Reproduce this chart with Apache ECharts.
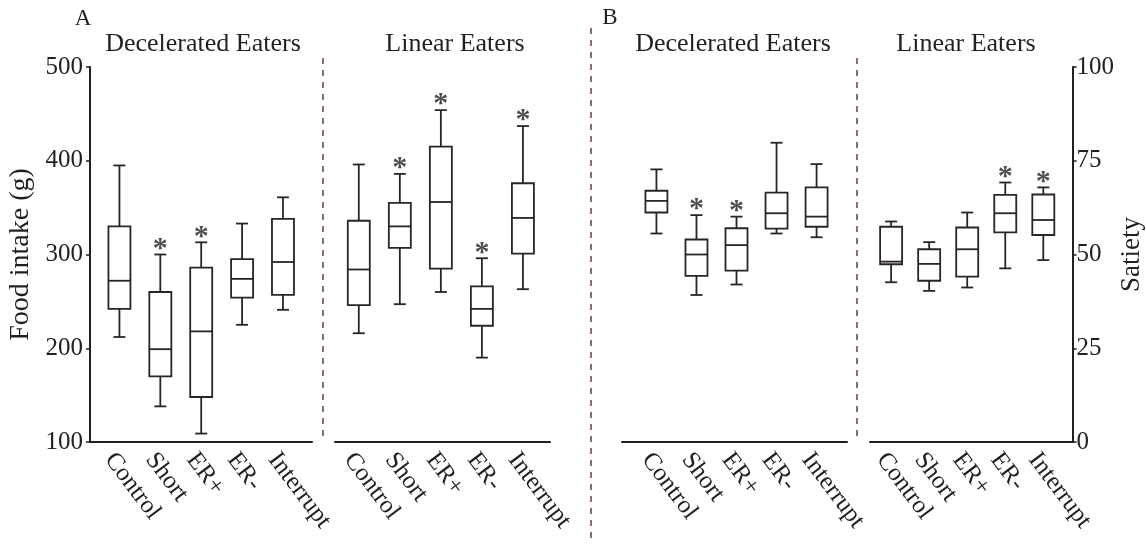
<!DOCTYPE html>
<html><head><meta charset="utf-8">
<script src="https://cdn.jsdelivr.net/npm/echarts@6/dist/echarts.min.js"></script>
<style>html,body{margin:0;padding:0;background:#fff}#c{width:1146px;height:545px}</style>
</head><body><div id="c"></div>
<script>
// ---- data ----
const categories = ['Control', 'Short', 'ER+', 'ER-', 'Interrupt'];
// [min, Q1, median, Q3, max]
const foodDecelerated = [[212, 242, 272, 330, 395], [138, 170, 199, 260, 300], [109, 148, 218, 286, 313], [225, 254, 274, 295, 333], [241, 257, 292, 338, 361]];
const foodLinear = [[216, 246, 284, 336, 396], [247, 307, 330, 355, 386], [260, 285, 356, 415, 454], [190, 224, 242, 266, 296], [263, 301, 339, 376, 437]];
const satietyDecelerated = [[55.6, 61.2, 64.3, 67.0, 72.7], [39.2, 44.3, 50.0, 54.0, 60.5], [42.0, 45.7, 52.5, 57.0, 60.1], [55.6, 56.9, 61.0, 66.5, 79.8], [54.6, 57.4, 60.1, 67.9, 74.1]];
const satietyLinear = [[42.6, 47.4, 48.1, 57.4, 58.8], [40.3, 43.0, 47.5, 51.4, 53.3], [41.2, 44.1, 51.4, 57.2, 61.2], [46.3, 55.9, 61.0, 65.9, 69.2], [48.5, 55.2, 59.2, 66.0, 67.9]];
const sigFoodDecelerated = [0, 1, 1, 0, 0];
const sigFoodLinear = [0, 1, 1, 1, 1];
const sigSatietyDecelerated = [0, 1, 1, 0, 0];
const sigSatietyLinear = [0, 0, 0, 1, 1];
const foodTicks = [100, 200, 300, 400, 500];
const satietyTicks = [0, 25, 50, 75, 100];

// ---- style ----
const FONT = 'Liberation Serif';
const INK = '#231f20';
const LINE = '#2a2422';
const DASH = '#8c6b6f';

const panels = [
  { vals: foodDecelerated, sig: sigFoodDecelerated, left: 90, width: 222, xmin: -0.72, xmax: 4.71 },
  { vals: foodLinear, sig: sigFoodLinear, left: 335, width: 215, xmin: -0.58, xmax: 4.66 },
  { vals: satietyDecelerated, sig: sigSatietyDecelerated, left: 622, width: 225, xmin: -0.86, xmax: 4.76 },
  { vals: satietyLinear, sig: sigSatietyLinear, left: 870, width: 213, xmin: -0.555, xmax: 4.77 }
];

function renderBox(params, api) {
  const x = api.value(0);
  const c = k => api.coord([x, api.value(k)]);
  const pMin = c(1), pQ1 = c(2), pMed = c(3), pQ3 = c(4), pMax = c(5);
  const cx = pMin[0], hw = 11, cw = 6;
  const st = { stroke: LINE, lineWidth: 1.8, fill: null };
  return { type: 'group', children: [
    { type: 'line', shape: { x1: cx, y1: pMax[1], x2: cx, y2: pQ3[1] }, style: st },
    { type: 'line', shape: { x1: cx, y1: pQ1[1], x2: cx, y2: pMin[1] }, style: st },
    { type: 'line', shape: { x1: cx - cw, y1: pMax[1], x2: cx + cw, y2: pMax[1] }, style: st },
    { type: 'line', shape: { x1: cx - cw, y1: pMin[1], x2: cx + cw, y2: pMin[1] }, style: st },
    { type: 'rect', shape: { x: cx - hw, y: pQ3[1], width: 2 * hw, height: pQ1[1] - pQ3[1] }, style: { stroke: LINE, lineWidth: 1.8, fill: 'rgba(0,0,0,0)' } },
    { type: 'line', shape: { x1: cx - hw, y1: pMed[1], x2: cx + hw, y2: pMed[1] }, style: st }
  ] };
}

const grid = panels.map(p => ({ left: p.left, width: p.width, top: 67, height: 375 }));
const xAxis = panels.map((p, gi) => ({
  type: 'value', gridIndex: gi, min: p.xmin, max: p.xmax,
  splitLine: { show: false },
  axisLine: { show: true, onZero: false, lineStyle: { color: INK, width: 2 } },
  axisTick: { show: false },
  axisLabel: {
    customValues: [0, 1, 2, 3, 4], rotate: -53, margin: 6, verticalAlign: 'top',
    formatter: v => categories[Math.round(v)],
    fontFamily: FONT, fontSize: 25, color: INK
  }
}));
const yAxis = [
  { type: 'value', gridIndex: 0, min: 100, max: 500, interval: 100, name: 'Food intake (g)',
    nameLocation: 'middle', nameRotate: 90, nameGap: 55,
    nameTextStyle: { fontFamily: FONT, fontSize: 28, color: INK },
    axisLine: { show: true, onZero: false, lineStyle: { color: INK, width: 2 } },
    axisTick: { show: true, length: 4, lineStyle: { color: INK, width: 1.5 } },
    splitLine: { show: false },
    axisLabel: { customValues: foodTicks, margin: 7, fontFamily: FONT, fontSize: 25, color: INK } },
  { type: 'value', gridIndex: 1, min: 100, max: 500, show: false },
  { type: 'value', gridIndex: 2, min: 0, max: 100, show: false },
  { type: 'value', gridIndex: 3, min: 0, max: 100, interval: 25, position: 'right', name: 'Satiety',
    nameLocation: 'middle', nameRotate: 90, nameGap: 34,
    nameTextStyle: { fontFamily: FONT, fontSize: 27, color: INK },
    axisLine: { show: true, onZero: false, lineStyle: { color: INK, width: 2 } },
    axisTick: { show: true, length: 4, lineStyle: { color: INK, width: 1.5 } },
    splitLine: { show: false },
    axisLabel: { customValues: satietyTicks, margin: 4, fontFamily: FONT, fontSize: 25, color: INK } }
];

const series = [];
panels.forEach((p, gi) => {
  series.push({
    type: 'custom', xAxisIndex: gi, yAxisIndex: gi, renderItem: renderBox,
    encode: { x: 0, y: [1, 2, 3, 4, 5] },
    data: categories.map((c, i) => [i].concat(p.vals[i]))
  });
  series.push({
    type: 'scatter', xAxisIndex: gi, yAxisIndex: gi, symbolSize: 1, itemStyle: { color: 'rgba(0,0,0,0)' },
    label: { show: true, formatter: '*', position: 'top', distance: -10, fontFamily: FONT, fontSize: 30, fontWeight: 'bold', color: INK },
    data: categories.map((c, i) => [i, p.vals[i][4]]).filter((d, i) => p.sig[i])
  });
});

function txt(x, y, t, size) {
  return { type: 'text', style: { x: x, y: y, text: t, fontFamily: FONT, fontSize: size, fill: INK, textAlign: 'center', textVerticalAlign: 'middle' } };
}
function dash(x, y1, y2) {
  return { type: 'line', shape: { x1: x, y1: y1, x2: x, y2: y2 }, style: { stroke: DASH, lineWidth: 2, lineDash: [6, 6] } };
}

const option = {
  backgroundColor: '#fff',
  animation: false,
  grid, xAxis, yAxis, series,
  graphic: [
    txt(83, 19, 'A', 23), txt(610, 18, 'B', 23),
    txt(203, 44, 'Decelerated Eaters', 26), txt(455, 44, 'Linear Eaters', 26),
    txt(733, 44, 'Decelerated Eaters', 26), txt(966, 44, 'Linear Eaters', 26),
    dash(323, 58, 442), dash(591, 28, 540), dash(857, 58, 442)
  ]
};
echarts.init(document.getElementById('c')).setOption(option);
</script></body></html>
